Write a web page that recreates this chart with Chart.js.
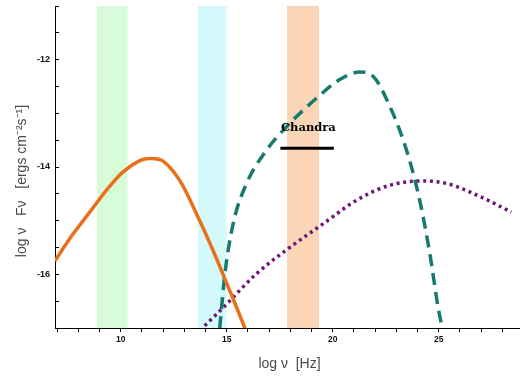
<!DOCTYPE html>
<html>
<head>
<meta charset="utf-8">
<script src="https://cdn.jsdelivr.net/npm/chart.js@4.4.1/dist/chart.umd.min.js"></script>
<style>
  html, body { margin: 0; padding: 0; background: #fff; }
  #wrap { width: 520px; height: 376px; }
</style>
</head>
<body>
<div id="wrap"><canvas id="c" width="520" height="376"></canvas></div>
<script>
// ---- data ----
const xTicks = [7,8,9,10,11,12,13,14,15,16,17,18,19,20,21,22,23,24,25,26,27,28];
const xLabels = [10, 15, 20, 25];
const yTicks = [-17,-16.5,-16,-15.5,-15,-14.5,-14,-13.5,-13,-12.5,-12,-11.5,-11];
const yLabels = [-12, -14, -16];

// synchrotron (orange solid)
const syncX = [6.89, 7.75, 8.54, 9.33, 10.11, 10.9, 11.4, 12.0, 12.78, 13.57, 14.35, 14.98, 15.5, 16.0];
const syncY = [-15.75, -15.25, -14.84, -14.43, -14.09, -13.88, -13.84, -13.89, -14.25, -14.87, -15.55, -16.15, -16.65, -17.15];

// teal dashed
const dashX = [14.67, 14.91, 15.3, 15.93, 16.87, 17.82, 19.23, 20.33, 21.27, 21.9, 22.69, 23.48, 24.1, 24.58, 24.97, 25.25];
const dashY = [-17.0, -16.0, -15.06, -14.31, -13.69, -13.25, -12.72, -12.37, -12.23, -12.31, -12.87, -13.69, -14.62, -15.62, -16.62, -17.15];

// purple dotted
const dotX = [13.96, 14.83, 16.4, 17.97, 19.54, 21.12, 22.69, 24.26, 25.4, 27.0, 28.42];
const dotY = [-16.96, -16.62, -15.99, -15.5, -15.06, -14.62, -14.34, -14.26, -14.31, -14.56, -14.84];

// shaded bands [from, to]
const bandGreen = [8.87, 10.33];
const bandCyan = [13.63, 15.0];
const bandOrange = [17.84, 19.35];

// Chandra bar
const chandraX = [17.53, 20.05];
const chandraY = -13.65;
const chandraLabel = 'Chandra';
const chandraLabelPos = [18.85, -13.28];

const xTitle = 'log ν  [Hz]';
const yTitle = 'log ν   Fν   [ergs cm⁻²s⁻¹]';

// ---- build ----
const pts = (xs, ys) => xs.map((x, i) => ({x: x, y: ys[i]}));
const band = (b, color) => ({
  data: [{x: b[0], y: -11}, {x: b[1], y: -11}],
  borderWidth: 0, pointRadius: 0, backgroundColor: color,
  fill: 'start', tension: 0
});

const textPlugin = {
  id: 'texts',
  afterDatasetsDraw(chart) {
    const ctx = chart.ctx;
    const xs = chart.scales.x, ys = chart.scales.y, ca = chart.chartArea;
    ctx.save();
    ctx.font = 'bold 11.5px "DejaVu Serif", serif';
    ctx.fillStyle = '#000';
    ctx.textAlign = 'center';
    ctx.textBaseline = 'middle';
    ctx.fillText(chandraLabel, xs.getPixelForValue(chandraLabelPos[0]), ys.getPixelForValue(chandraLabelPos[1]));
    // axis titles
    ctx.font = '14px "Liberation Sans", Arial, sans-serif';
    ctx.fillStyle = '#4a4a4a';
    ctx.fillText(xTitle, (ca.left + ca.right) / 2 + 2, 364);
    ctx.translate(22, 181);
    ctx.rotate(-Math.PI / 2);
    ctx.fillText(yTitle, 0, 0);
    ctx.restore();
  }
};

new Chart(document.getElementById('c'), {
  type: 'line',
  data: {
    datasets: [
      { data: pts(chandraX, [chandraY, chandraY]), borderColor: '#000', borderWidth: 3, pointRadius: 0, fill: false },
      { data: pts(syncX, syncY), borderColor: 'rgb(232,112,28)', borderWidth: 3.5, pointRadius: 0, tension: 0.35, fill: false },
      { data: pts(dashX, dashY), borderColor: 'rgb(22,122,112)', borderWidth: 3.5, borderDash: [12, 7], pointRadius: 0, cubicInterpolationMode: 'monotone', fill: false },
      { data: pts(dotX, dotY), borderColor: 'rgb(112,22,122)', borderWidth: 3.5, borderDash: [3, 3.7], pointRadius: 0, cubicInterpolationMode: 'monotone', fill: false },
      band(bandGreen, 'rgb(216,252,216)'),
      band(bandCyan, 'rgb(212,250,252)'),
      band(bandOrange, 'rgb(250,214,182)')
    ]
  },
  options: {
    responsive: false,
    animation: false,
    devicePixelRatio: 1,
    layout: { padding: { top: 6, right: 0, left: 0, bottom: 0 } },
    plugins: { legend: { display: false }, tooltip: { enabled: false } },
    scales: {
      x: {
        type: 'linear', min: 6.9, max: 28.83,
        afterBuildTicks: s => { s.ticks = xTicks.map(v => ({value: v})); },
        afterFit: s => { s.height = 48; s.paddingLeft = 0; s.paddingRight = 0; },
        grid: { display: true, drawOnChartArea: false, drawTicks: true, tickLength: 4, color: '#000' },
        border: { display: true, color: '#000', width: 1 },
        ticks: {
          autoSkip: false, maxRotation: 0, padding: 3, color: '#111',
          font: { family: '"Liberation Sans", Arial, sans-serif', size: 8.5, weight: 'bold' },
          callback: v => xLabels.includes(v) ? String(v) : ''
        }
      },
      y: {
        type: 'linear', min: -17, max: -11,
        afterBuildTicks: s => { s.ticks = yTicks.map(v => ({value: v})); },
        afterFit: s => { s.width = 55; s.paddingTop = 0; s.paddingBottom = 0; },
        grid: { display: true, drawOnChartArea: false, drawTicks: true, tickLength: -4, color: '#000' },
        border: { display: true, color: '#000', width: 1 },
        ticks: {
          autoSkip: false, padding: 9, color: '#111',
          font: { family: '"Liberation Sans", Arial, sans-serif', size: 9, weight: 'bold' },
          callback: v => yLabels.includes(v) ? String(v) : ''
        }
      }
    }
  },
  plugins: [textPlugin]
});
</script>
</body>
</html>
